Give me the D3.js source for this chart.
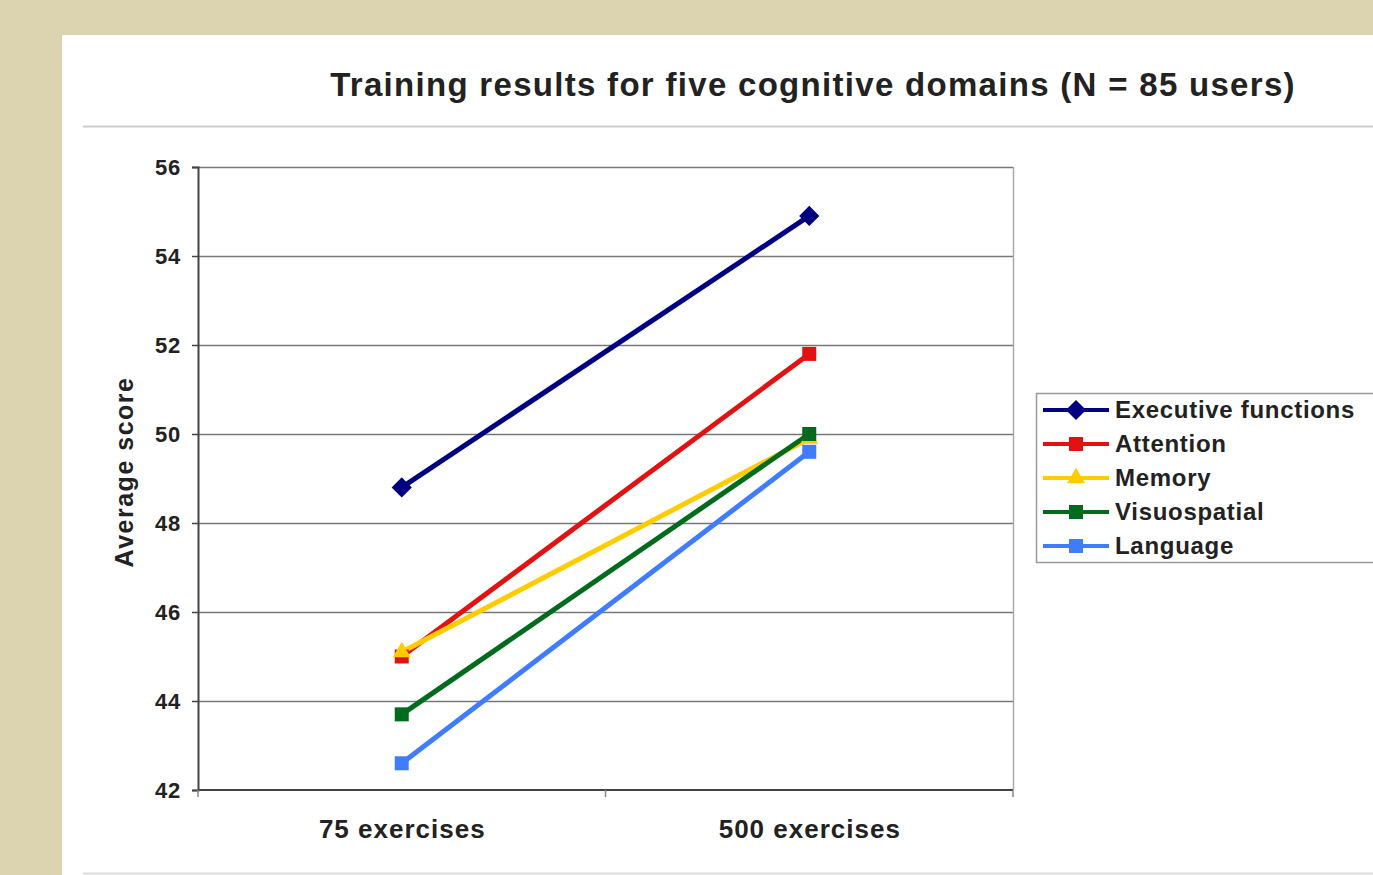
<!DOCTYPE html>
<html>
<head>
<meta charset="utf-8">
<script src="https://cdn.jsdelivr.net/npm/d3@7"></script>
<style>
  html, body { margin: 0; padding: 0; background: #dcd3b0; }
  svg { display: block; }
  text { font-family: "Liberation Sans", Arial, sans-serif; font-weight: bold; fill: #222; }
</style>
</head>
<body>
<svg width="1373" height="875"></svg>
<script>
// data
const categories = ["75 exercises", "500 exercises"];
const seriesNames = ["Executive functions", "Attention", "Memory", "Visuospatial", "Language"];
const executive = [48.8, 54.9];
const attention = [45.0, 51.8];
const memory = [45.1, 49.9];
const visuospatial = [43.7, 50.0];
const language = [42.6, 49.6];
const yTicks = [42, 44, 46, 48, 50, 52, 54, 56];

const colors = ["#000080", "#e31212", "#ffcc00", "#006b1c", "#3f7cff"];
const symbols = ["diamond", "square", "triangle", "square", "square"];
const series = seriesNames.map((name, i) => ({
  name: name,
  values: [executive, attention, memory, visuospatial, language][i],
  color: colors[i],
  symbol: symbols[i]
}));

const svg = d3.select("svg");

// white panel
svg.append("rect")
  .attr("x", 62).attr("y", 35)
  .attr("width", 1373 - 62).attr("height", 875 - 35)
  .attr("fill", "#fff");

// title and rules
svg.append("text")
  .attr("x", 813).attr("y", 96)
  .attr("text-anchor", "middle")
  .style("font-size", "33px")
  .style("letter-spacing", "1.3px")
  .text("Training results for five cognitive domains (N = 85 users)");
svg.append("line")
  .attr("x1", 83).attr("x2", 1373).attr("y1", 126.5).attr("y2", 126.5)
  .attr("stroke", "#ccc").attr("stroke-width", 2);
svg.append("line")
  .attr("x1", 83).attr("x2", 1373).attr("y1", 873.5).attr("y2", 873.5)
  .attr("stroke", "#ddd").attr("stroke-width", 2);

const plot = { left: 198, right: 1013, top: 167, bottom: 790 };

const x = d3.scalePoint()
  .domain(categories)
  .range([plot.left, plot.right])
  .padding(0.5);
const y = d3.scaleLinear()
  .domain([42, 56])
  .range([plot.bottom, plot.top]);

const g = svg.append("g");

// gridlines
g.selectAll("line.grid")
  .data(yTicks.filter(d => d > 42))
  .enter().append("line")
  .attr("class", "grid")
  .attr("x1", plot.left).attr("x2", plot.right)
  .attr("y1", d => Math.round(y(d)) + 0.5).attr("y2", d => Math.round(y(d)) + 0.5)
  .attr("stroke", "#777").attr("stroke-width", 1.5);

// right border of plot area
g.append("line")
  .attr("x1", plot.right + 0.5).attr("x2", plot.right + 0.5)
  .attr("y1", plot.top).attr("y2", plot.bottom)
  .attr("stroke", "#aaa").attr("stroke-width", 1.5);

// y axis
const yAxis = g.append("g")
  .attr("transform", `translate(${plot.left},0)`)
  .call(d3.axisLeft(y).tickValues(yTicks).tickSize(6).tickPadding(11));
yAxis.select(".domain").attr("stroke", "#444").attr("stroke-width", 2);
yAxis.selectAll(".tick line").attr("stroke", "#444").attr("stroke-width", 1.5);
yAxis.selectAll(".tick text")
  .style("font-size", "22px")
  .style("letter-spacing", "0.8px")
  .style("font-family", "'Liberation Sans', Arial, sans-serif")
  .style("font-weight", "bold")
  .attr("fill", "#222");

// x axis with ticks between categories
const xAxis = g.append("g")
  .attr("transform", `translate(0,${plot.bottom})`)
  .call(d3.axisBottom(x).tickSize(0).tickPadding(30));
xAxis.select(".domain").attr("stroke", "#444").attr("stroke-width", 2)
  .attr("d", `M${plot.left},0H${plot.right}`);
xAxis.selectAll(".tick text")
  .style("font-size", "26px")
  .style("letter-spacing", "1px")
  .style("font-family", "'Liberation Sans', Arial, sans-serif")
  .style("font-weight", "bold")
  .attr("fill", "#222");
const bandEdges = [plot.left, (plot.left + plot.right) / 2, plot.right];
xAxis.selectAll("line.sep")
  .data(bandEdges)
  .enter().append("line")
  .attr("class", "sep")
  .attr("x1", d => d).attr("x2", d => d)
  .attr("y1", 0).attr("y2", 7)
  .attr("stroke", "#888").attr("stroke-width", 1.5);

// y axis title
svg.append("text")
  .attr("transform", "translate(133,472) rotate(-90)")
  .attr("text-anchor", "middle")
  .style("font-size", "25px")
  .style("letter-spacing", "1.5px")
  .text("Average score");

// lines
const line = d3.line()
  .x((d, i) => x(categories[i]))
  .y(d => y(d));

g.selectAll("path.series")
  .data(series)
  .enter().append("path")
  .attr("class", "series")
  .attr("d", d => line(d.values))
  .attr("fill", "none")
  .attr("stroke", d => d.color)
  .attr("stroke-width", 5);

function symbolPath(kind) {
  if (kind === "diamond") return d3.symbol(d3.symbolDiamond2, 260)();
  if (kind === "triangle") return d3.symbol(d3.symbolTriangle2, 230)();
  return d3.symbol(d3.symbolSquare2, 250)();
}

series.forEach(s => {
  g.selectAll(null)
    .data(s.values)
    .enter().append("path")
    .attr("d", symbolPath(s.symbol))
    .attr("transform", (d, i) => `translate(${x(categories[i])},${y(d)})`)
    .attr("fill", s.color);
});

// legend
const legend = svg.append("g").attr("transform", "translate(1036,393)");
legend.append("rect")
  .attr("x", 0.5).attr("y", 0.5)
  .attr("width", 400).attr("height", 169)
  .attr("fill", "#fff")
  .attr("stroke", "#999").attr("stroke-width", 1.5);

const item = legend.selectAll("g.item")
  .data(series)
  .enter().append("g")
  .attr("class", "item")
  .attr("transform", (d, i) => `translate(0,${17 + i * 34})`);
item.append("line")
  .attr("x1", 7).attr("x2", 73)
  .attr("stroke", d => d.color).attr("stroke-width", 4);
item.append("path")
  .attr("d", d => symbolPath(d.symbol))
  .attr("transform", "translate(40,0)")
  .attr("fill", d => d.color);
item.append("text")
  .attr("x", 79).attr("dy", "0.35em")
  .style("font-size", "24px")
  .style("letter-spacing", "0.7px")
  .text(d => d.name);
</script>
</body>
</html>
